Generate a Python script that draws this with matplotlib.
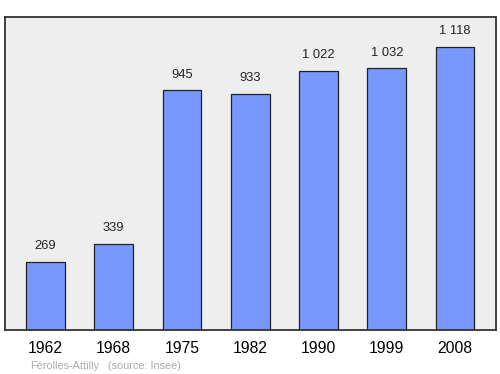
import matplotlib
matplotlib.use("Agg")
import matplotlib.pyplot as plt

plt.rcParams["font.family"] = ["Liberation Sans", "DejaVu Sans"]

years = ["1962", "1968", "1975", "1982", "1990", "1999", "2008"]
population = [269, 339, 945, 933, 1022, 1032, 1118]
value_labels = ["269", "339", "945", "933", "1 022", "1 032", "1 118"]

fig = plt.figure(figsize=(5, 3.74), dpi=100)
ax = fig.add_axes([0.01, 0.1176, 0.982, 0.837])
ax.set_facecolor("#eeeeee")

x = range(len(years))
ax.bar(x, population, width=0.57, color="#7799ff", edgecolor="#222222", linewidth=0.9, zorder=2)

for xi, v, lab in zip(x, population, value_labels):
    ax.annotate(lab, (xi, v), xytext=(0, 7), textcoords="offset points",
                ha="center", va="bottom", fontsize=9.3, color="#222222")

ax.set_xlim(-0.593, 6.6)
ax.set_ylim(0, 1235)
ax.set_xticks(list(x))
ax.set_xticklabels(years, fontsize=11.3)
ax.tick_params(axis="x", length=0, pad=8)
ax.set_yticks([])
for s in ax.spines.values():
    s.set_linewidth(1.3)
    s.set_color("#333333")

fig.text(0.06, 0.014, "Férolles-Attilly", fontsize=7.8, color="#aaaaaa", ha="left", va="baseline")
fig.text(0.216, 0.014, "(source: Insee)", fontsize=7.8, color="#aaaaaa", ha="left", va="baseline")

plt.savefig("out.png", dpi=100)
